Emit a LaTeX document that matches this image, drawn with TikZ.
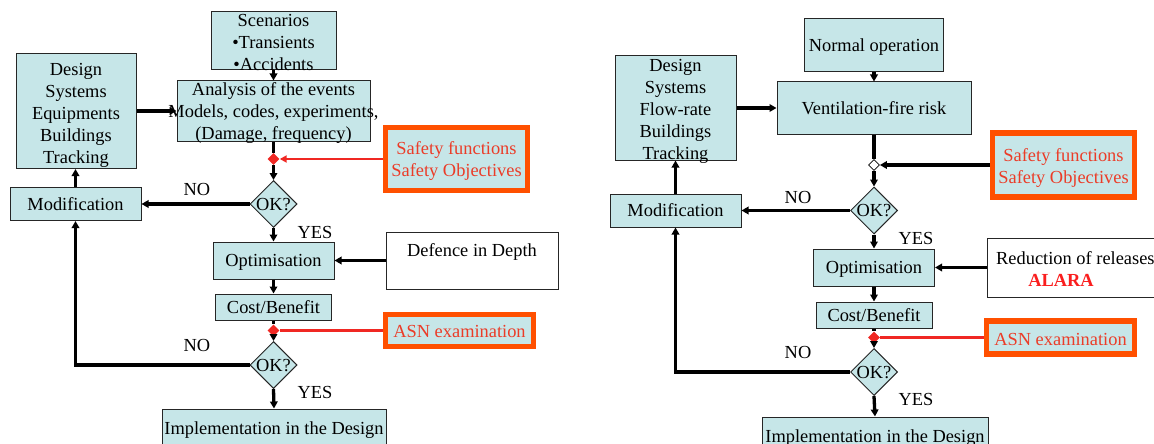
\documentclass[tikz,border=0pt]{standalone}
\usepackage{fontspec}
\setmainfont{Liberation Serif}
\usetikzlibrary{arrows.meta,shapes.geometric}
\definecolor{boxfill}{RGB}{198,230,232}
\definecolor{orng}{RGB}{255,80,0}
\definecolor{redtxt}{RGB}{235,60,40}
\definecolor{redln}{RGB}{240,40,35}
\definecolor{alara}{RGB}{250,30,30}
\begin{document}
\begin{tikzpicture}[x=1pt,y=-1pt,
  txt/.style={font=\fontsize{18.4}{22}\selectfont, inner sep=0pt, align=center},
  one/.style={text height=12.6pt, text depth=0pt},
  box/.style={txt, one, rectangle, draw=black!85, line width=1pt, fill=boxfill},
  wbox/.style={rectangle, draw=black!85, line width=1pt, fill=white},
  obox/.style={rectangle, draw=orng, line width=5.5pt, fill=boxfill},
  dec/.style={diamond, draw=black!85, line width=1pt, fill=boxfill, inner sep=0pt,
    minimum width=47pt, minimum height=47pt},
  rdot/.style={diamond, fill=redln, minimum width=12pt, minimum height=12pt, inner sep=0pt},
  wdot/.style={diamond, draw=black, fill=white, line width=0.8pt, minimum width=11pt, minimum height=11pt, inner sep=0pt},
  conn/.style={line width=3.3pt, -{Triangle[length=7pt,width=7.5pt]}},
  cline/.style={line width=3.3pt},
  rconn/.style={draw=redln, line width=2.8pt},
]
\useasboundingbox (0,0) rectangle (1154,444);
\clip (0,0) rectangle (1154,444);

% ---------------- left diagram ----------------
\node[box, minimum width=125pt, minimum height=58pt] (scen) at (273.5,41) {};
\node[txt] (scenT) at (273.5,42) {Scenarios\\•Transients\\•Accidents};
\node[box, minimum width=193pt, minimum height=60pt] (anal) at (273.5,111) {};
\node[txt] (analT) at (273.5,113.5) {Analysis of the events\\Models, codes, experiments,\\(Damage, frequency)};
\node[box, minimum width=120pt, minimum height=115pt] (desL) at (76,111) {};
\node[txt] (desLT) at (76,115) {Design\\Systems\\Equipments\\Buildings\\Tracking};
\node[box, minimum width=131pt, minimum height=33pt] (modL) at (75.5,204) {Modification};
\node[rdot] (rL1) at (273.5,159) {};
\node[obox, minimum width=142pt, minimum height=63pt] (safL) at (456.5,159) {};
\node[txt, text=redtxt] (safLT) at (456.5,161) {Safety functions\\Safety Objectives};
\node[dec, label={[txt,one]center:OK?}] (okL1) at (273.5,204) {};
\node[box, minimum width=121pt, minimum height=37pt] (optL) at (273.5,260.5) {Optimisation};
\node[wbox, minimum width=172pt, minimum height=57pt] (defL) at (472,260.5) {};
\node[txt, one] (defLT) at (472,250) {Defence in Depth};
\node[box, minimum width=116pt, minimum height=26pt] (cbL) at (273.5,307) {Cost/Benefit};
\node[rdot] (rL2) at (273.5,330.5) {};
\node[obox, minimum width=148pt, minimum height=32pt] (asnL) at (459.5,330.5) {};
\node[txt, one, text=redtxt] (asnLT) at (459.5,331) {ASN examination};
\node[dec, label={[txt,one]center:OK?}] (okL2) at (273.5,365) {};
\node[box, minimum width=224pt, minimum height=40pt] (implL) at (274,429) {};
\node[txt, one] (implLT) at (274,428) {Implementation in the Design};

\node[txt, one] (noL1) at (197,189) {NO};
\node[txt, one] (yesL1) at (315,232) {YES};
\node[txt, one] (noL2) at (197,345) {NO};
\node[txt, one] (yesL2) at (315,392) {YES};

\draw[conn] (scen.south) -- (anal.north);
\draw[conn] (desL.east) -- (anal.west);
\draw[cline] (anal.south) -- (rL1.north);
\draw[conn] (rL1.south) -- (okL1.north);
\draw[rconn, -{Triangle[length=7pt,width=7pt]}] (safL.west) -- (rL1.east);
\draw[conn] (okL1.west) -- (modL.east);
\draw[conn] (modL.north) -- (modL.north |- desL.south);
\draw[conn] (okL1.south) -- (optL.north);
\draw[conn] (defL.west) -- (optL.east);
\draw[conn] (optL.south) -- (cbL.north);
\draw[cline] (cbL.south) -- (rL2.north);
\draw[conn] (rL2.south) -- (okL2.north);
\draw[rconn] (asnL.west) -- (rL2.east);
\draw[conn] (okL2.west) -| (modL.south);
\draw[conn] (okL2.south) -- (implL.north);

% ---------------- right diagram ----------------
\node[box, minimum width=139pt, minimum height=53pt] (normR) at (874,45) {Normal operation};
\node[box, minimum width=194pt, minimum height=52pt] (ventR) at (874,108) {Ventilation-fire risk};
\node[box, minimum width=121pt, minimum height=104pt] (desR) at (675.5,108) {};
\node[txt] (desRT) at (675.5,111) {Design\\Systems\\Flow-rate\\Buildings\\Tracking};
\node[box, minimum width=131pt, minimum height=33pt] (modR) at (675.5,210.5) {Modification};
\node[wdot] (wdR) at (874,165) {};
\node[obox, minimum width=142pt, minimum height=64pt] (safR) at (1063.5,165) {};
\node[txt, text=redtxt] (safRT) at (1063.5,168) {Safety functions\\Safety Objectives};
\node[dec, label={[txt,one]center:OK?}] (okR1) at (874,210.5) {};
\node[box, minimum width=121pt, minimum height=37pt] (optR) at (874,267.5) {Optimisation};
\node[wbox, minimum width=183pt, minimum height=59pt] (redR) at (1078.5,267.5) {};
\node[txt, one, anchor=west] (redRT) at (996,258) {Reduction of releases};
\node[txt, one, text=alara, font=\fontsize{18.4}{22}\selectfont\bfseries] (alaraT) at (1061,280) {ALARA};
\node[box, minimum width=116pt, minimum height=26pt] (cbR) at (874,315) {Cost/Benefit};
\node[rdot] (rR) at (874,337.5) {};
\node[obox, minimum width=148pt, minimum height=33pt] (asnR) at (1060.5,337.5) {};
\node[txt, one, text=redtxt] (asnRT) at (1060.5,339) {ASN examination};
\node[dec, label={[txt,one]center:OK?}] (okR2) at (874,372) {};
\node[box, minimum width=226pt, minimum height=40pt] (implR) at (875,437) {};
\node[txt, one] (implRT) at (875,436) {Implementation in the Design};

\node[txt, one] (noR1) at (798,197) {NO};
\node[txt, one] (yesR1) at (916,238) {YES};
\node[txt, one] (noR2) at (798,352) {NO};
\node[txt, one] (yesR2) at (916,399) {YES};

\draw[conn] (normR.south) -- (ventR.north);
\draw[conn] (desR.east) -- (ventR.west);
\draw[cline] (ventR.south) -- (wdR.north);
\draw[conn] (wdR.south) -- (okR1.north);
\draw[conn] (safR.west) -- (wdR.east);
\draw[conn] (okR1.west) -- (modR.east);
\draw[conn] (modR.north) -- (modR.north |- desR.south);
\draw[conn] (okR1.south) -- (optR.north);
\draw[conn] (redR.west) -- (optR.east);
\draw[conn] (optR.south) -- (cbR.north);
\draw[cline] (cbR.south) -- (rR.north);
\draw[conn] (rR.south) -- (okR2.north);
\draw[rconn] (asnR.west) -- (rR.east);
\draw[conn] (okR2.west) -| (modR.south);
\draw[conn] (okR2.south) -- (implR.north);
\end{tikzpicture}
\end{document}
